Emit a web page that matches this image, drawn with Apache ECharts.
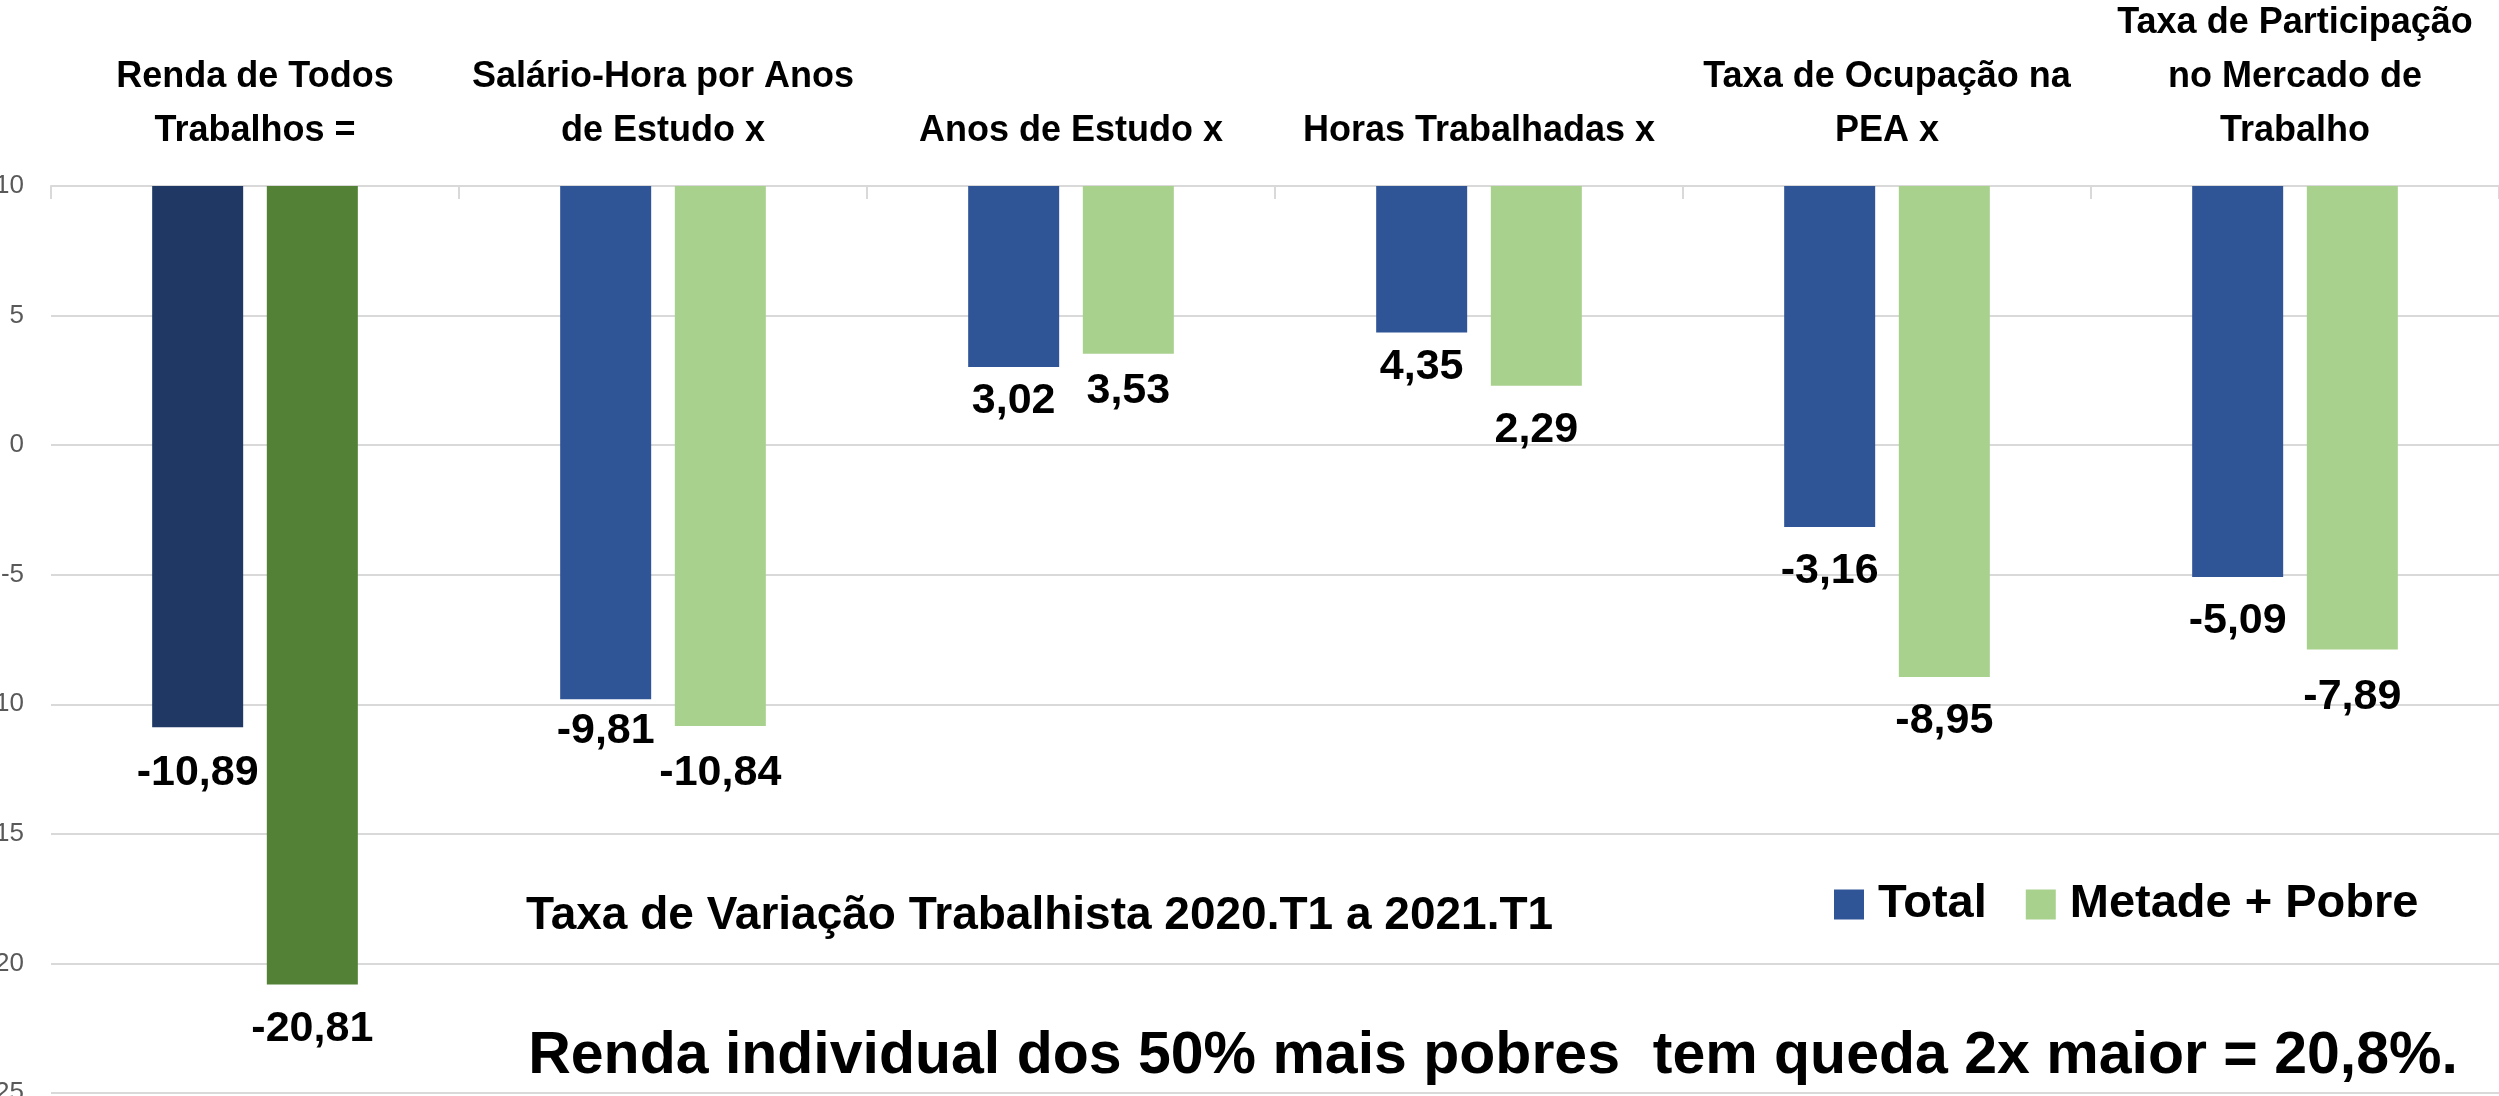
<!DOCTYPE html>
<html>
<head>
<meta charset="utf-8">
<title>Taxa de Variação Trabalhista 2020.T1 a 2021.T1</title>
<script src="https://cdn.jsdelivr.net/npm/echarts@6/dist/echarts.min.js"></script>
<style>
  html, body { margin: 0; padding: 0; background: #fff; }
  #chart { width: 2499px; height: 1096px; }
</style>
</head>
<body>
<div id="chart"></div>
<script>
const categories = [
  'Renda de Todos\nTrabalhos =',
  'Salário-Hora por Anos\nde Estudo x',
  'Anos de Estudo x',
  'Horas Trabalhadas x',
  'Taxa de Ocupação na\nPEA x',
  'Taxa de Participação\nno Mercado de\nTrabalho'
];
const totalValues = [-10.89, -9.81, 3.02, 4.35, -3.16, -5.09];
const metadeValues = [-20.81, -10.84, 3.53, 2.29, -8.95, -7.89];
const seriesNames = ['Total', 'Metade + Pobre'];
const yMin = -25;
const yMax = 10; // bars hang from the top of the axis
const yStep = 5;

const FONT = '"Liberation Sans", Arial, sans-serif';
const fmt = v => v.toFixed(2).replace('.', ',');

// bars go from yMax down to the value: a transparent base + the visible part
function hangingBars(name, values, color, firstColor, stack, gaps) {
  const common = { type: 'bar', stack: stack, stackStrategy: 'all', barWidth: 91, barGap: '26%' };
  const base = Object.assign({}, common, {
    name: name + ' base',
    silent: true,
    itemStyle: { color: 'transparent' },
    data: values.slice()
  });
  const bar = Object.assign({}, common, {
    name: name,
    itemStyle: { color: color },
    label: {
      show: true,
      position: 'bottom',
      fontFamily: FONT,
      fontSize: 43,
      fontWeight: 'bold',
      color: '#000',
      formatter: p => fmt(values[p.dataIndex])
    },
    data: values.map((v, i) => {
      const item = { value: yMax - v, label: { distance: gaps[i] } };
      if (i === 0) item.itemStyle = { color: firstColor };
      return item;
    })
  });
  return [base, bar];
}

const chart = echarts.init(document.getElementById('chart'));
chart.setOption({
  animation: false,
  backgroundColor: '#fff',
  grid: { left: 51, right: 0, top: 186, bottom: 3, outerBoundsMode: 'none' },
  legend: {
    data: seriesNames,
    left: 1829,
    top: 876,
    icon: 'rect',
    itemWidth: 30,
    itemHeight: 30,
    itemGap: 39,
    textStyle: {
      fontFamily: FONT,
      fontSize: 47,
      fontWeight: 'bold',
      color: '#000',
      padding: [0, 0, 0, 9]
    }
  },
  xAxis: {
    type: 'category',
    position: 'top',
    data: categories,
    axisLine: { onZero: false, lineStyle: { color: '#D9D9D9', width: 2 } },
    axisTick: { show: true, inside: true, length: 13, lineStyle: { color: '#D9D9D9', width: 2 } },
    axisLabel: {
      interval: 0,
      margin: 28,
      fontFamily: FONT,
      fontSize: 36,
      fontWeight: 'bold',
      lineHeight: 54,
      color: '#000'
    }
  },
  yAxis: {
    type: 'value',
    min: yMin,
    max: yMax,
    interval: yStep,
    axisLine: { show: false },
    axisTick: { show: false },
    splitLine: { lineStyle: { color: '#D9D9D9', width: 2 } },
    axisLabel: { margin: 27, fontFamily: FONT, fontSize: 26, color: '#595959' }
  },
  graphic: [
    {
      type: 'text',
      x: 526,
      y: 916,
      style: {
        text: 'Taxa de Variação Trabalhista 2020.T1 a 2021.T1',
        font: 'bold 46px ' + FONT,
        fill: '#000',
        textAlign: 'left',
        textVerticalAlign: 'middle'
      }
    },
    {
      type: 'text',
      x: 1493,
      y: 1057,
      style: {
        text: 'Renda individual dos 50% mais pobres  tem queda 2x maior = 20,8%.',
        font: 'bold 59px ' + FONT,
        fill: '#000',
        textAlign: 'center',
        textVerticalAlign: 'middle'
      }
    }
  ],
  series: [].concat(
    hangingBars(seriesNames[0], totalValues, '#2F5597', '#203864', 'total', [24, 10, 13, 13, 23, 23]),
    hangingBars(seriesNames[1], metadeValues, '#A9D18E', '#538135', 'metade', [23, 26, 16, 23, 23, 26])
  )
});
</script>
</body>
</html>
